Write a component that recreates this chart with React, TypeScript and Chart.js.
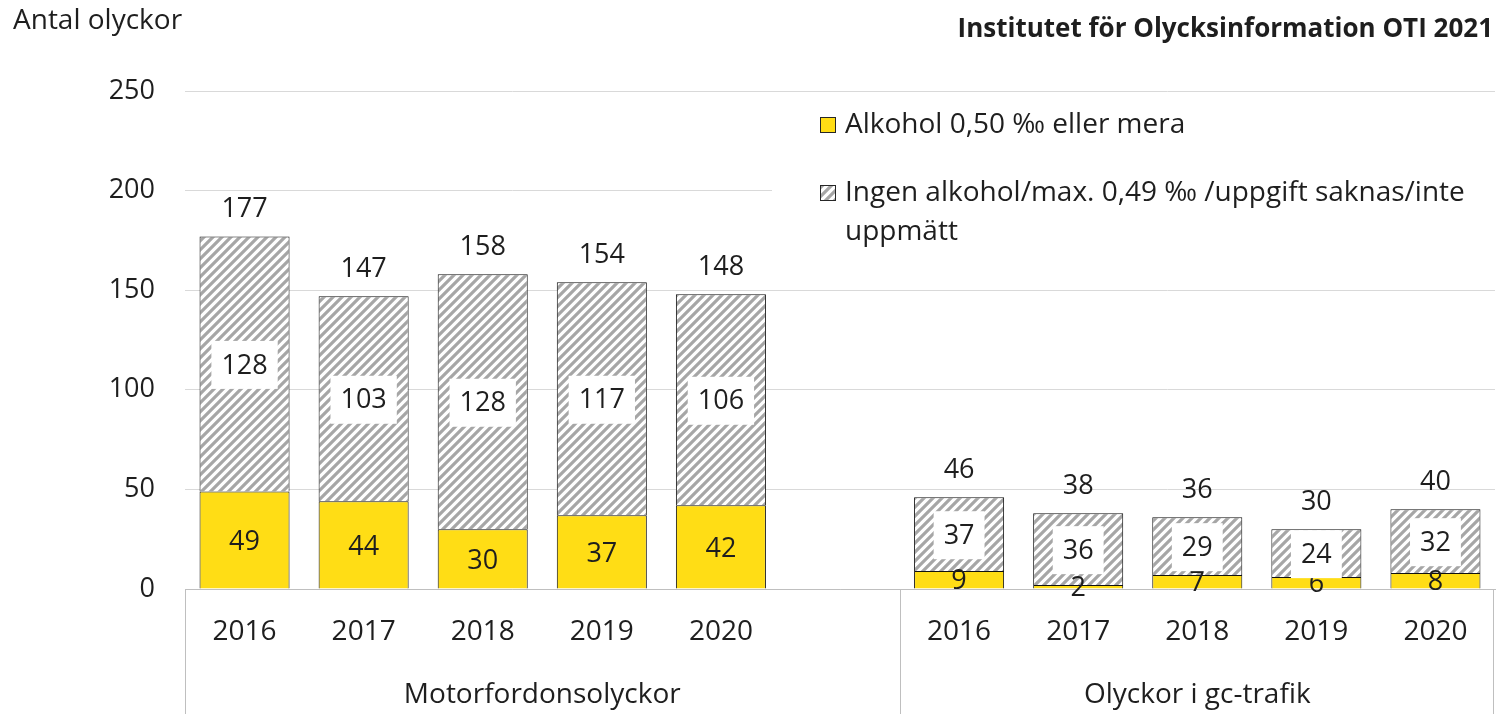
import React, { useEffect, useRef } from "react";
import { Chart, registerables } from "chart.js";

Chart.register(...registerables);

const categories = ["2016", "2017", "2018", "2019", "2020", "", "2016", "2017", "2018", "2019", "2020"];
const alkohol = [49, 44, 30, 37, 42, null, 9, 2, 7, 6, 8];
const ingenAlkohol = [128, 103, 128, 117, 106, null, 37, 36, 29, 24, 32];
const groupLabels = ["Motorfordonsolyckor", "Olyckor i gc-trafik"];
const groupRanges = [[0, 5], [6, 10]];
const seriesLabels = ["Alkohol 0,50 ‰ eller mera", "Ingen alkohol/max. 0,49 ‰ /uppgift saknas/inte uppmätt"];
const yTitle = "Antal olyckor";
const chartTitle = "Institutet för Olycksinformation OTI 2021";

const FONT = "'Open Sans', 'Noto Sans', sans-serif";
const TEXT = "#1e1e1e";
const YELLOW = "#FFDD15";

function makePattern(): CanvasPattern | string {
  const s = 9;
  const c = document.createElement("canvas");
  c.width = s;
  c.height = s;
  const g = c.getContext("2d");
  if (!g) return "#bbb";
  g.fillStyle = "#ffffff";
  g.fillRect(0, 0, s, s);
  g.strokeStyle = "#a6a6a6";
  g.lineWidth = 3.2;
  g.beginPath();
  g.moveTo(-1, s + 1);
  g.lineTo(s + 1, -1);
  g.moveTo(-3, 3);
  g.lineTo(3, -3);
  g.moveTo(s - 3, s + 3);
  g.lineTo(s + 3, s - 3);
  g.stroke();
  const p = g.createPattern(c, "repeat");
  return p || "#bbb";
}

export default function App() {
  const ref = useRef<HTMLCanvasElement | null>(null);

  useEffect(() => {
    document.body.style.margin = "0";
    const canvas = ref.current;
    if (!canvas) return;
    const hatch = makePattern();

    const decorPlugin = {
      id: "decor",
      beforeDatasetsDraw(chart: any) {
        const { ctx, chartArea } = chart;
        ctx.save();
        const lx = 772;
        const ly = 100;
        ctx.fillStyle = "#ffffff";
        ctx.fillRect(lx, ly, chartArea.right - lx + 3, 160);
        ctx.font = `28px ${FONT}`;
        ctx.textBaseline = "middle";
        ctx.textAlign = "left";
        const items = [
          { fill: YELLOW as any, y: 125 },
          { fill: hatch as any, y: 193 },
        ];
        items.forEach((it, k) => {
          ctx.fillStyle = it.fill;
          ctx.fillRect(820, it.y - 8, 16, 16);
          ctx.strokeStyle = "#262626";
          ctx.lineWidth = 1;
          ctx.strokeRect(820.5, it.y - 7.5, 15, 15);
          ctx.fillStyle = TEXT;
          const words = seriesLabels[k].split(" ");
          const maxW = 660;
          const lines: string[] = [];
          let cur = "";
          words.forEach((w) => {
            const t = cur ? cur + " " + w : w;
            if (ctx.measureText(t).width > maxW && cur) {
              lines.push(cur);
              cur = w;
            } else cur = t;
          });
          if (cur) lines.push(cur);
          lines.forEach((ln, j) => ctx.fillText(ln, 845, it.y + j * 39));
        });
        ctx.restore();
      },
      afterDatasetsDraw(chart: any) {
        const { ctx } = chart;
        const m0 = chart.getDatasetMeta(0);
        const m1 = chart.getDatasetMeta(1);
        ctx.save();
        ctx.font = `27px ${FONT}`;
        ctx.textAlign = "center";
        ctx.textBaseline = "middle";
        categories.forEach((_, i) => {
          const a = alkohol[i];
          const b = ingenAlkohol[i];
          if (a == null || b == null) return;
          const e0 = m0.data[i];
          const e1 = m1.data[i];
          ctx.fillStyle = TEXT;
          ctx.fillText(String(a), e0.x, (e0.y + e0.base) / 2 + 2);
          const cy = (e1.y + e1.base) / 2;
          const w = ctx.measureText(String(b)).width;
          ctx.fillStyle = "#ffffff";
          ctx.fillRect(e1.x - w / 2 - 10, cy - 23, w + 20, 48);
          ctx.fillStyle = TEXT;
          ctx.fillText(String(b), e1.x, cy + 2);
          ctx.fillText(String(a + b), e1.x, e1.y - 27);
        });
        ctx.restore();
      },
      afterDraw(chart: any) {
        const { ctx, chartArea, scales } = chart;
        const xs = scales.x;
        const H = chart.height;
        ctx.save();
        ctx.strokeStyle = "#bfbfbf";
        ctx.lineWidth = 1;
        const step = xs.getPixelForValue(1) - xs.getPixelForValue(0);
        groupRanges.forEach(([s, e], g) => {
          const left = g === 0 ? chartArea.left : xs.getPixelForValue(groupRanges[0][1]) + step / 2;
          const right = g === 0 ? xs.getPixelForValue(groupRanges[0][1]) + step / 2 : xs.getPixelForValue(e) + step / 2;
          ctx.fillStyle = TEXT;
          ctx.font = `28px ${FONT}`;
          ctx.textAlign = "center";
          ctx.textBaseline = "middle";
          ctx.fillText(groupLabels[g], (left + right) / 2, 695);
        });
        const lines = [chartArea.left, xs.getPixelForValue(groupRanges[0][1]) + step / 2, chartArea.right - 2];
        lines.forEach((x) => {
          const px = Math.round(x) + 0.5;
          ctx.beginPath();
          ctx.moveTo(px, chartArea.bottom);
          ctx.lineTo(px, H);
          ctx.stroke();
        });
        ctx.fillStyle = TEXT;
        ctx.textBaseline = "middle";
        ctx.textAlign = "left";
        ctx.font = `28px ${FONT}`;
        ctx.fillText(yTitle, 13, 21);
        ctx.textAlign = "right";
        ctx.font = `bold 26px ${FONT}`;
        ctx.fillText(chartTitle, 1493, 30);
        ctx.restore();
      },
    };

    const chart = new Chart(canvas, {
      type: "bar",
      data: {
        labels: categories,
        datasets: [
          {
            label: seriesLabels[0],
            data: alkohol as any,
            backgroundColor: YELLOW,
            borderColor: "#111111",
            borderWidth: 1,
            barPercentage: 0.756,
            categoryPercentage: 1,
          },
          {
            label: seriesLabels[1],
            data: ingenAlkohol as any,
            backgroundColor: hatch as any,
            borderColor: "#111111",
            borderWidth: 1,
            barPercentage: 0.756,
            categoryPercentage: 1,
          },
        ],
      },
      options: {
        responsive: false,
        animation: false,
        devicePixelRatio: 1,
        layout: { padding: { top: 91, right: 4, left: 0, bottom: 0 } },
        plugins: { legend: { display: false }, tooltip: { enabled: false } },
        scales: {
          x: {
            stacked: true,
            grid: { display: false, drawTicks: false },
            border: { display: true, color: "#bfbfbf", width: 1 },
            ticks: { font: { family: FONT, size: 28 }, color: TEXT, padding: 26, autoSkip: false, maxRotation: 0 },
            afterFit: (s: any) => {
              s.height = 125;
            },
          },
          y: {
            stacked: true,
            min: 0,
            max: 250,
            grid: { color: "#d9d9d9", lineWidth: 1, drawTicks: false },
            border: { display: false },
            ticks: { stepSize: 50, font: { family: FONT, size: 27 }, color: TEXT, padding: 30 },
            afterFit: (s: any) => {
              s.width = 185;
            },
          },
        },
      },
      plugins: [decorPlugin],
    });
    return () => chart.destroy();
  }, []);

  return (
    <div style={{ width: 1499, height: 714, position: "relative", background: "#fff" }}>
      <canvas ref={ref} width={1499} height={714} />
    </div>
  );
}
